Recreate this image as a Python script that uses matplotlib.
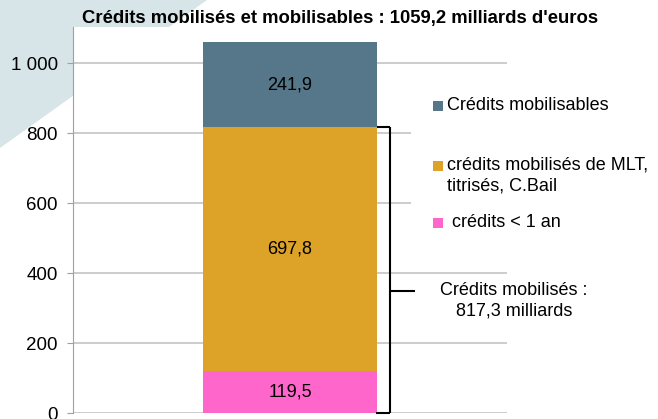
import matplotlib
matplotlib.use("Agg")
import matplotlib.pyplot as plt
from matplotlib.patches import Polygon, Rectangle
from matplotlib.ticker import FuncFormatter

plt.rcParams['font.family'] = ['Liberation Sans', 'DejaVu Sans']

# données (milliards d'euros)
segments = ["crédits < 1 an", "crédits mobilisés de MLT,\ntitrisés, C.Bail", "Crédits mobilisables"]
values = [119.5, 697.8, 241.9]
labels = ["119,5", "697,8", "241,9"]
colors = ["#FF66CC", "#DDA228", "#557789"]
title = "Crédits mobilisés et mobilisables : 1059,2 milliards d'euros"
bracket_text = "Crédits mobilisés :\n817,3 milliards"
yticks = [0, 200, 400, 600, 800, 1000]

W, H = 658, 419
fig = plt.figure(figsize=(W / 100, H / 100), dpi=100)
fig.patch.set_facecolor("white")


def px(x, y):
    return (x / W, 1 - y / H)


# décor bleu clair en haut à gauche
fig.patches.append(Polygon([px(0, 0), px(207, 0), px(0, 148)], closed=True,
                           transform=fig.transFigure, facecolor="#D7E4E8",
                           edgecolor="none", zorder=0))

ax = fig.add_axes([73 / W, 1 - 413 / H, (507 - 73) / W, (413 - 27) / H])
ax.set_zorder(1)
ax.set_facecolor("white")

bottom = 0
for v, lab, c in zip(values, labels, colors):
    ax.bar(0, v, width=0.4, bottom=bottom, color=c, zorder=3)
    ax.text(0, bottom + v / 2, lab, ha="center", va="center", fontsize=13, zorder=4)
    bottom += v

ax.set_xlim(-0.5, 0.5)
ax.set_ylim(0, 1103)
ax.set_yticks(yticks)
ax.yaxis.set_major_formatter(FuncFormatter(lambda v, p: f"{int(v):,}".replace(",", " ")))
ax.set_xticks([])
ax.grid(axis="y", color="#BFBFBF", linewidth=1.1, zorder=0)
ax.set_axisbelow(True)
for s in ["top", "right", "bottom"]:
    ax.spines[s].set_visible(False)
ax.spines["left"].set_color("#A0A0A0")
ax.tick_params(axis="y", length=4, color="#A0A0A0", labelsize=13.5, pad=7)

# accolade "crédits mobilisés"
mob = values[0] + values[1]
bx = 0.2304
kw = dict(color="black", linewidth=1.5, clip_on=False, zorder=5, solid_capstyle="butt")
ax.plot([bx, bx], [0, mob], **kw)
ax.plot([0.201, bx], [mob, mob], **kw)
ax.plot([0.199, bx], [0, 0], **kw)
ax.plot([bx, 0.288], [350, 350], **kw)

# fond blanc de la légende qui masque la grille
ax.add_patch(Rectangle(px(411, 80), (W - 411) / W, -(255 - 80) / H,
                       transform=fig.transFigure, facecolor="white",
                       edgecolor="none", zorder=2, clip_on=False))

# légende
leg_rows = [(2, 106, 447), (1, 166, 447), (0, 223, 447)]
for i, y, tx in leg_rows:
    x0, y0 = px(433, y + 5)
    fig.patches.append(Rectangle((x0, y0), 10 / W, 10 / H, transform=fig.transFigure,
                                 facecolor=colors[i], edgecolor="none", zorder=3))
    name = segments[i] if i != 0 else " " + segments[i]
    fig.text(*px(tx, y - 9), name, ha="left", va="top", fontsize=13,
             linespacing=1.25, zorder=4)

fig.text(*px(514, 301), bracket_text, ha="center", va="center", fontsize=13,
         linespacing=1.25, zorder=4)

fig.text(*px(340, 18), title, ha="center", va="center", fontsize=13.3,
         fontweight="bold", zorder=4)

fig.savefig("out.png", dpi=100)
